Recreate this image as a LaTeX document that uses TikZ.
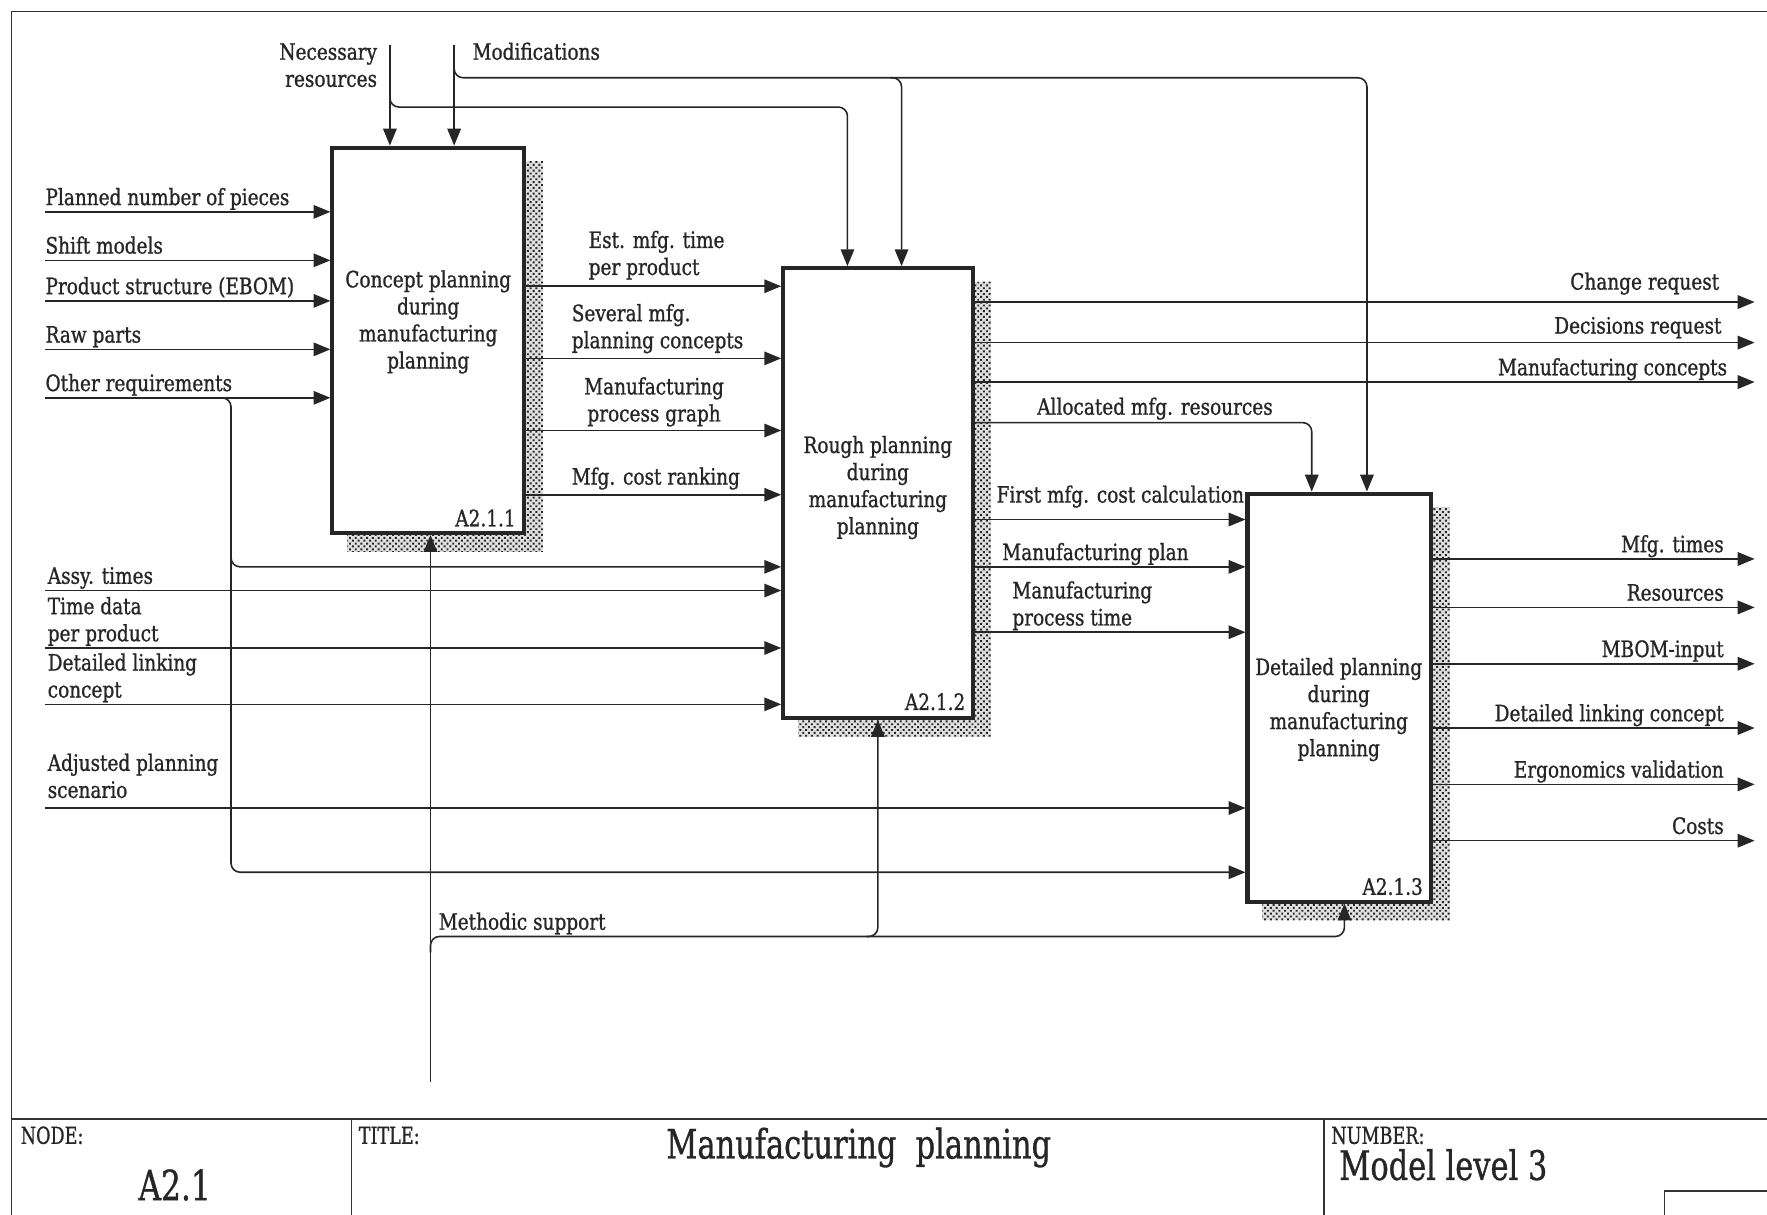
\documentclass[tikz,border=0pt]{standalone}
\usepackage{fontspec}
\setmainfont{DejaVu Serif}[FakeStretch=0.82,FakeBold=1]
\newfontfamily\titlefont{DejaVu Serif}[FakeStretch=0.75,FakeBold=0.8]
\usetikzlibrary{arrows.meta,calc,patterns.meta}

\begin{document}
\begin{tikzpicture}[x=0.5pt,y=-0.5pt,
  wire/.style={draw=black!85,line width=0.7pt},
  flow/.style={wire,-{Triangle[length=7.5pt,width=6pt]}},
  fork/.style={flow,rounded corners=4pt},
  frame/.style={draw=black!80,line width=0.65pt},
  activity/.style={draw=black!85,fill=white,line width=1.8pt,inner sep=0pt},
  hatchbase/.style={fill=black!12},
  hatch/.style={pattern={Dots[distance=1.8pt,radius=0.6pt,angle=45]},pattern color=black!85},
  lbl/.style={inner sep=0pt,text=black!85,font=\fontsize{10}{12}\selectfont},
  lbll/.style={lbl,anchor=base west,align=left},
  lblr/.style={lbl,anchor=base east,align=right},
  boxtext/.style={lbl,anchor=base,align=center},
  tag/.style={lbl,anchor=base east},
  smallcap/.style={inner sep=0pt,text=black!85,anchor=base west,font=\titlefont\fontsize{10.4}{10.4}\selectfont},
  bigtext/.style={inner sep=0pt,text=black!85,font=\titlefont\fontsize{18}{18}\selectfont},
]
\useasboundingbox (0,0) rectangle (1568,1078);

% ---------- frame and title block ----------
\draw[frame] (10,1078) -- (10,10) -- (1568,10);
\draw[frame] (10,993) -- (1568,993);
\draw[frame] (312,993) -- (312,1078);
\draw[frame] (1175,993) -- (1175,1078);
\draw[frame] (1568,1057) -- (1477,1057) -- (1477,1078);
\node[smallcap] (nodecap) at (18,1015) {NODE:};
\node[smallcap] (titlecap) at (318,1015) {TITLE:};
\node[smallcap] (numcap) at (1181,1015) {NUMBER:};
\node[bigtext,anchor=base,font=\titlefont\fontsize{18.5}{18.5}\selectfont] (nodeid) at (155,1065) {A2.1};
\node[bigtext,anchor=base] (title) at (762,1028) {Manufacturing\ \ planning};
\node[bigtext,anchor=base west] (number) at (1188,1047) {Model level 3};

% ---------- activity boxes ----------
\node[activity,minimum width=85pt,minimum height=171pt] (b1) at (380,302) {};
\node[activity,minimum width=84pt,minimum height=199.5pt] (b2) at (779,437.5) {};
\node[activity,minimum width=81.5pt,minimum height=181pt] (b3) at (1188.5,619) {};

\foreach \b in {b1,b2,b3}{
  \fill[hatchbase] ($(\b.north east)+(0,14)$) rectangle ($(\b.south east)+(15,15)$);
  \fill[hatchbase] ($(\b.south west)+(15,0)$) rectangle ($(\b.south east)+(0,15)$);
  \fill[hatch] ($(\b.north east)+(0,14)$) rectangle ($(\b.south east)+(15,15)$);
  \fill[hatch] ($(\b.south west)+(15,0)$) rectangle ($(\b.south east)+(0,15)$);
}

\node[boxtext] (t1) at (380,327) {Concept planning\\during\\manufacturing\\planning};
\node[boxtext] (t2) at (779,474) {Rough planning\\during\\manufacturing\\planning};
\node[boxtext] (t3) at (1188,671) {Detailed planning\\during\\manufacturing\\planning};
\node[tag] (id1) at (458,467) {A2.1.1};
\node[tag] (id2) at (857,630) {A2.1.2};
\node[tag] (id3) at (1263,794) {A2.1.3};

% ---------- controls ----------
\coordinate (nr) at (346,40);
\coordinate (mo) at (403,40);
\draw[flow] (nr) -- (nr |- b1.north);
\draw[flow] (mo) -- (mo |- b1.north);
\draw[fork] (346,85) -- (346,95) -- (752,95) -- (752,95 |- b2.north);
\draw[fork] (403,60) -- (403,69) -- (1213,69) -- (1213,69 |- b3.north);
\draw[fork] (790,69) -- (800,69) -- (800,69 |- b2.north);
\node[lblr] (lnr) at (335,77) {Necessary\\resources};
\node[lbll] (lmo) at (419,53) {Modifications};

% ---------- inputs of A2.1.1 ----------
\foreach \y/\n/\t in {188/i1/Planned number of pieces,231/i2/Shift models,
    267/i3/Product structure (EBOM),310/i4/Raw parts,353/i5/Other requirements}{
  \coordinate (\n) at (40,\y);
  \draw[flow] (\n) -- (\n -| b1.west);
  \node[lbll] (l\n) at ($(\n)+(0,-6)$) {\t};
}
\draw[fork] (195,353) -- (205,353) -- (205,774) -- (205,774 -| b3.west);
\draw[fork] (205,490) -- (205,503) -- (205,503 -| b2.west);

% ---------- inputs of A2.1.2 / A2.1.3 from the left ----------
\coordinate (i6) at (40,524);
\coordinate (i7) at (40,575);
\coordinate (i8) at (40,625);
\coordinate (i9) at (40,717);
\draw[flow] (i6) -- (i6 -| b2.west);
\draw[flow] (i7) -- (i7 -| b2.west);
\draw[flow] (i8) -- (i8 -| b2.west);
\draw[flow] (i9) -- (i9 -| b3.west);
\node[lbll] (li6) at (42,518) {Assy. times};
\node[lbll] (li7) at (42,569) {Time data\\per product};
\node[lbll] (li8) at (42,619) {Detailed linking\\concept};
\node[lbll] (li9) at (42,708) {Adjusted planning\\scenario};

% ---------- A2.1.1 -> A2.1.2 ----------
\foreach \y in {254,318,382,439}
  \draw[flow] (b1.east |- 0,\y) -- (b2.west |- 0,\y);
\node[lbll] (o1) at (522,244) {Est. mfg. time\\per product};
\node[lbll] (o2) at (507,309) {Several mfg.\\planning concepts};
\node[lbll,align=center] (o3) at (518,374) {Manufacturing\\process graph};
\node[lbll] (o4) at (507,430) {Mfg. cost ranking};

% ---------- outputs of A2.1.2 ----------
\foreach \y in {268,304,339}
  \draw[flow] (b2.east |- 0,\y) -- (1557,\y);
\node[lblr] (o5) at (1526,257) {Change request};
\node[lblr] (o6) at (1528,296) {Decisions request};
\node[lblr] (o7) at (1533,333) {Manufacturing concepts};
\draw[fork] (b2.east |- 0,375) -- (1164,375) -- (1164,375 |- b3.north);
\node[lbll] (o8) at (920,368) {Allocated mfg. resources};
\foreach \y in {461,503,561}
  \draw[flow] (b2.east |- 0,\y) -- (b3.west |- 0,\y);
\node[lbll] (o9) at (884,446) {First mfg. cost calculation};
\node[lbll] (o10) at (889,497) {Manufacturing plan};
\node[lbll] (o11) at (898,555) {Manufacturing\\process time};

% ---------- outputs of A2.1.3 ----------
\foreach \y/\t in {496/Mfg. times,539/Resources,589/MBOM-input,
    646/Detailed linking concept,696/Ergonomics validation,746/Costs}{
  \draw[flow] (b3.east |- 0,\y) -- (1557,\y);
  \node[lblr] at (1530,\y-6) {\t};
}

% ---------- mechanism ----------
\coordinate (ms) at (382,960);
\draw[flow] (ms) -- (ms |- b1.south);
\draw[fork] (382,845) -- (382,831) -- (1193,831) -- (1193,831 |- b3.south);
\draw[fork] (769,831) -- (779,831) -- (779,831 |- b2.south);
\node[lbll] (lms) at (389,825) {Methodic support};
\end{tikzpicture}
\end{document}
